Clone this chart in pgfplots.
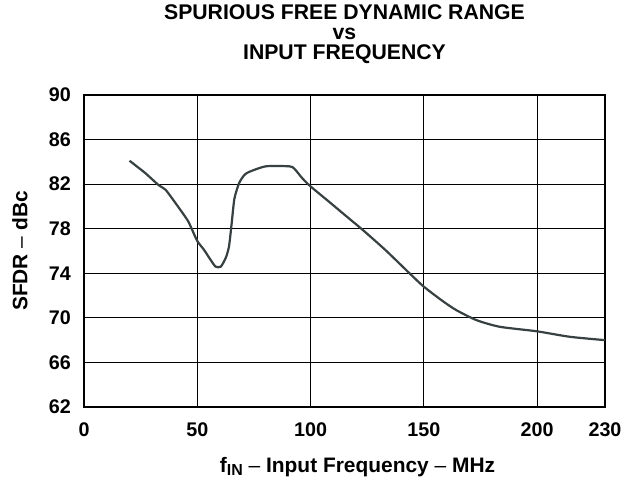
\documentclass[border=0pt]{standalone}
\usepackage{fontspec}
\setmainfont{Liberation Sans}
\usepackage{pgfplots}
\pgfplotsset{compat=1.18}
\begin{document}
\begin{tikzpicture}
\begin{axis}[
  at={(0,0)}, anchor=south west,
  scale only axis,
  width=521bp, height=312bp,
  xmin=0, xmax=230, ymin=62, ymax=90,
  xtick={0,50,100,150,200,230},
  ytick={62,66,70,74,78,82,86,90},
  grid=major,
  major grid style={black, line width=1bp},
  axis line style={black, line width=2bp},
  tick style={draw=none},
  /pgf/number format/assume math mode=true,
  ticklabel style={font=\fontsize{19.8}{22}\selectfont\bfseries, inner sep=0pt},
  xticklabel style={anchor=north, yshift=-16bp},
  yticklabel style={anchor=east, xshift=-13bp},
  xlabel={f\raisebox{-0.25ex}{\fontsize{16}{18}\selectfont IN} \textmd{--} Input Frequency \textmd{--} MHz},
  ylabel={SFDR \textmd{--} dBc},
  label style={font=\fontsize{21}{24}\selectfont\bfseries, inner sep=0pt},
  xlabel style={at={(axis description cs:0.525,-0.2115)}, anchor=base},
  ylabel style={at={(axis description cs:-0.1228,0.5)}, anchor=center, rotate=0},
  title={SPURIOUS FREE DYNAMIC RANGE\\vs\\INPUT FREQUENCY},
  title style={font=\fontsize{21.3}{20.5}\selectfont\bfseries, align=center, inner sep=0pt,
    at={(axis description cs:0.5,1.2724)}, anchor=north},
]
\addplot[color={rgb,255:red,55;green,65;blue,65}, line width=2.2bp, smooth, tension=0.4] coordinates {
(20.1,84.1) (27,83.0) (33.0,81.9) (36.0,81.5) (40.4,80.3) (45.6,78.8) (47.1,78.2)
(50,76.9) (53.0,76.1) (55.9,75.2) (58.1,74.6) (60.4,74.6) (62.6,75.4) (64.0,76.4)
(65.2,78.5) (66.4,80.7) (68.5,82.1) (70.7,82.8) (72.9,83.1) (80.3,83.6) (90.6,83.6)
(92.8,83.4) (96.5,82.5) (100,81.8) (108.3,80.4) (117.1,78.9) (123,77.9) (133,76.1)
(143.7,74.0) (150,72.8) (158.4,71.5) (164.3,70.7) (173.2,69.8) (183.5,69.2)
(199.7,68.8) (214.5,68.3) (230,68.0)
};
\end{axis}
\pgfresetboundingbox
\path[use as bounding box] (-84bp,-78bp) rectangle (551bp,407bp);
\end{tikzpicture}
\end{document}
